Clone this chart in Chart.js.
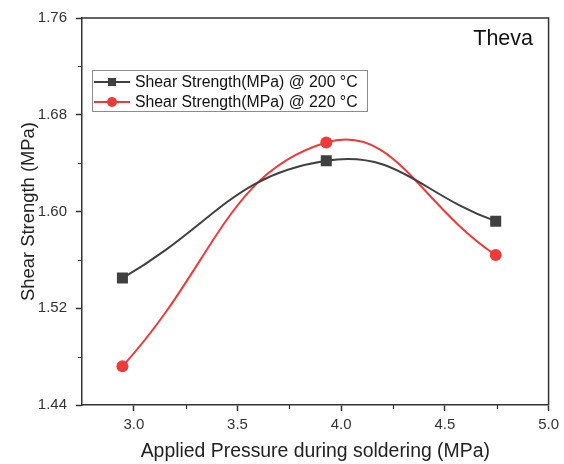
<!DOCTYPE html>
<html>
<head>
<meta charset="utf-8">
<script src="https://cdn.jsdelivr.net/npm/chart.js@4.4.1/dist/chart.umd.min.js"></script>
<style>
html,body{margin:0;padding:0;background:#fff;}
#wrap{width:564px;height:464px;}
</style>
</head>
<body>
<div id="wrap"><canvas id="c" width="564" height="464"></canvas></div>
<script>
const pressure = [2.945, 3.928, 4.745];
const strength200 = [1.545, 1.642, 1.592];
const strength220 = [1.472, 1.657, 1.564];
const seriesLabels = ['Shear Strength(MPa) @ 200 °C', 'Shear Strength(MPa) @ 220 °C'];
const xTicks = [3.0, 3.5, 4.0, 4.5, 5.0];
const xMinorTicks = [3.25, 3.75, 4.25, 4.75];
const yTicks = [1.44, 1.52, 1.60, 1.68, 1.76];
const yMinorTicks = [1.48, 1.56, 1.64, 1.72];
const panelTitle = 'Theva';
const xTitle = 'Applied Pressure during soldering (MPa)';
const yTitle = 'Shear Strength (MPa)';

const BLACK = '#404040';
const RED = '#f03a3a';
const AXIS = '#333333';
const FONT = "'Liberation Sans', Arial, sans-serif";

function toPts(xs, ys) { return xs.map((x, i) => ({x: x, y: ys[i]})); }

const framePlugin = {
  id: 'frame',
  afterDraw(chart) {
    const ctx = chart.ctx;
    const a = chart.chartArea;
    const xs = chart.scales.x, ys = chart.scales.y;
    ctx.save();
    ctx.strokeStyle = AXIS;
    ctx.lineWidth = 1.5;
    ctx.beginPath();
    ctx.moveTo(a.left, a.top);
    ctx.lineTo(a.right, a.top);
    ctx.lineTo(a.right, a.bottom);
    ctx.stroke();
    // minor ticks
    ctx.lineWidth = 1.2;
    ctx.beginPath();
    xMinorTicks.forEach(v => {
      const px = Math.round(xs.getPixelForValue(v)) + 0.5;
      ctx.moveTo(px, a.bottom);
      ctx.lineTo(px, a.bottom + 4);
    });
    yMinorTicks.forEach(v => {
      const py = Math.round(ys.getPixelForValue(v)) + 0.5;
      ctx.moveTo(a.left, py);
      ctx.lineTo(a.left - 4, py);
    });
    ctx.stroke();
    // panel title
    ctx.fillStyle = '#111';
    ctx.font = "21.5px " + FONT;
    ctx.textAlign = 'right';
    ctx.textBaseline = 'alphabetic';
    ctx.fillText(panelTitle, 533, 45);
    // legend
    const bx = 92, by = 70, bw = 275, bh = 41;
    ctx.fillStyle = '#fff';
    ctx.fillRect(bx, by, bw, bh);
    ctx.strokeStyle = '#8c8c8c';
    ctx.lineWidth = 1;
    ctx.strokeRect(bx + 0.5, by + 0.5, bw, bh);
    chart.data.datasets.forEach((ds, i) => {
      const yy = 82 + i * 20;
      ctx.strokeStyle = ds.borderColor;
      ctx.lineWidth = 2;
      ctx.beginPath();
      ctx.moveTo(94, yy);
      ctx.lineTo(130, yy);
      ctx.stroke();
      ctx.fillStyle = ds.pointBackgroundColor;
      if (ds.pointStyle === 'rect') {
        ctx.fillRect(108, yy - 4, 8, 8);
      } else {
        ctx.beginPath();
        ctx.arc(112, yy, 5, 0, Math.PI * 2);
        ctx.fill();
      }
      ctx.fillStyle = '#111';
      ctx.font = "15.8px " + FONT;
      ctx.textAlign = 'left';
      ctx.textBaseline = 'middle';
      ctx.fillText(ds.label, 135, yy + 1);
    });
    ctx.restore();
  }
};

new Chart(document.getElementById('c'), {
  type: 'line',
  data: {
    datasets: [
      {
        label: seriesLabels[0],
        data: toPts(pressure, strength200),
        borderColor: BLACK,
        backgroundColor: BLACK,
        pointBackgroundColor: BLACK,
        pointBorderColor: BLACK,
        pointStyle: 'rect',
        pointRadius: 7.8,
        pointBorderWidth: 0,
        borderWidth: 2,
        tension: 0.45,
        fill: false
      },
      {
        label: seriesLabels[1],
        data: toPts(pressure, strength220),
        borderColor: RED,
        backgroundColor: RED,
        pointBackgroundColor: RED,
        pointBorderColor: RED,
        pointStyle: 'circle',
        pointRadius: 6,
        pointBorderWidth: 0,
        borderWidth: 2,
        tension: 0.45,
        fill: false
      }
    ]
  },
  options: {
    responsive: false,
    devicePixelRatio: 1,
    animation: false,
    layout: { padding: { top: 18, right: 14, left: 0, bottom: 0 } },
    plugins: { legend: { display: false }, tooltip: { enabled: false }, title: { display: false } },
    scales: {
      x: {
        type: 'linear',
        min: 2.75,
        max: 5.0,
        afterFit: s => { s.height = 59; },
        afterBuildTicks: s => { s.ticks = xTicks.map(v => ({value: v})); },
        ticks: {
          callback: v => Number(v).toFixed(1),
          color: '#333',
          font: { family: FONT, size: 15 },
          padding: 5,
          maxRotation: 0,
          autoSkip: false
        },
        grid: { drawOnChartArea: false, drawTicks: true, tickLength: 6, tickColor: AXIS, tickWidth: 1.5 },
        border: { display: true, color: AXIS, width: 1.5 },
        title: { display: true, text: xTitle, color: '#222', font: { family: FONT, size: 19.4 }, padding: { top: 0, bottom: 1 } }
      },
      y: {
        type: 'linear',
        min: 1.44,
        max: 1.76,
        afterFit: s => { s.width = 82; },
        afterBuildTicks: s => { s.ticks = yTicks.map(v => ({value: v})); },
        ticks: {
          callback: v => Number(v).toFixed(2),
          color: '#333',
          font: { family: FONT, size: 15 },
          padding: 9,
          autoSkip: false
        },
        grid: { drawOnChartArea: false, drawTicks: true, tickLength: 6, tickColor: AXIS, tickWidth: 1.5 },
        border: { display: true, color: AXIS, width: 1.5 },
        title: { display: true, text: yTitle, color: '#222', font: { family: FONT, size: 18.4 }, padding: { top: 18, bottom: 0 } }
      }
    }
  },
  plugins: [framePlugin]
});
</script>
</body>
</html>
